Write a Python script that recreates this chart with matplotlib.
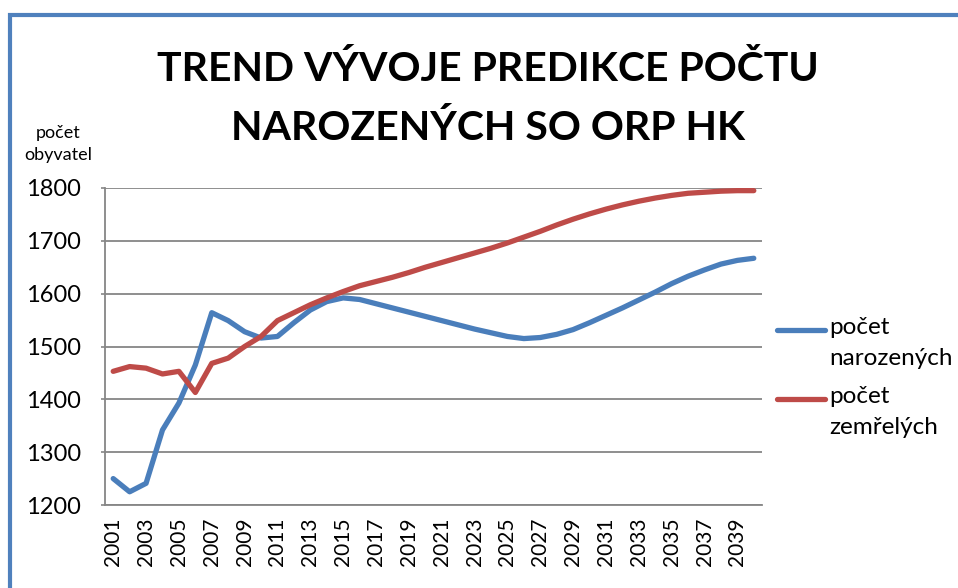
import matplotlib
matplotlib.use("Agg")
import matplotlib.pyplot as plt
from matplotlib.lines import Line2D
from matplotlib.patches import Rectangle

plt.rcParams['font.family'] = ['Lato', 'DejaVu Sans']

years = list(range(2001, 2041))
narozeni = [1250, 1225, 1241, 1342, 1393, 1465, 1564, 1549, 1528, 1516,
            1519, 1545, 1569, 1585, 1592, 1589, 1581, 1573, 1565, 1557,
            1549, 1541, 1533, 1526, 1519, 1515, 1517, 1523, 1532, 1545,
            1559, 1573, 1588, 1603, 1619, 1633, 1645, 1656, 1663, 1667]
zemreli = [1453, 1462, 1459, 1448, 1453, 1413, 1468, 1478, 1500, 1519,
           1549, 1564, 1579, 1592, 1604, 1615, 1623, 1631, 1640, 1650,
           1659, 1668, 1677, 1686, 1696, 1707, 1718, 1730, 1741, 1751,
           1760, 1768, 1775, 1781, 1786, 1790, 1792, 1794, 1795, 1795]
series_labels = ["počet\nnarozených", "počet\nzemřelých"]
colors = ["#4A7EBB", "#BE4B48"]
yticks = [1200, 1300, 1400, 1500, 1600, 1700, 1800]

W, H = 958, 588
fig = plt.figure(figsize=(W / 100, H / 100), dpi=100)
ax = fig.add_axes([105 / W, 1 - 505 / H, (762 - 105) / W, (505 - 188) / H])

x = list(range(len(years)))
for vals, c in zip([narozeni, zemreli], colors):
    ax.plot(x, vals, color=c, lw=3.8, solid_capstyle='round', solid_joinstyle='round')

ax.set_xlim(-0.5, len(years) - 0.5)
ax.set_ylim(1200, 1800)
ax.set_yticks(yticks)
ax.set_yticklabels([str(v) for v in yticks], fontsize=17)
ax.set_xticks(x[::2])
ax.set_xticklabels([str(y) for y in years[::2]], rotation=90, fontsize=15)
ax.tick_params(axis='x', length=0, pad=9)
ax.tick_params(axis='y', length=3, width=1.2, color='#868686', pad=14)
ax.grid(axis='y', color='#868686', lw=1.3)
ax.set_axisbelow(True)
for s in ['top', 'right']:
    ax.spines[s].set_visible(False)
for s in ['left', 'bottom']:
    ax.spines[s].set_color('#868686')
    ax.spines[s].set_linewidth(1.3)

# title and axis label
fig.text(488 / W, 1 - 51 / H, "TREND VÝVOJE PREDIKCE POČTU\nNAROZENÝCH SO ORP HK",
         ha='center', va='top', fontsize=29.5, fontweight='bold', linespacing=1.72)
fig.text(58 / W, 1 - 144 / H, "počet\nobyvatel", ha='center', va='center',
         fontsize=13, linespacing=1.5)

# legend drawn by hand so the line sits next to the first text row
for i, (lab, c) in enumerate(zip(series_labels, colors)):
    yy = 1 - (330 + i * 69) / H
    fig.add_artist(Line2D([777 / W, 825 / W], [yy, yy], color=c, lw=3.8,
                          transform=fig.transFigure, solid_capstyle='round'))
    fig.text(829 / W, yy + 13 / H, lab, ha='left', va='top', fontsize=17.5, linespacing=1.6)

# blue chart-area border
fig.add_artist(Rectangle((10 / W, -0.1), 1.2, 1.1 - 15 / H, transform=fig.transFigure,
                         fill=False, edgecolor='#4F81BD', lw=3))

fig.savefig("out.png", dpi=100)
